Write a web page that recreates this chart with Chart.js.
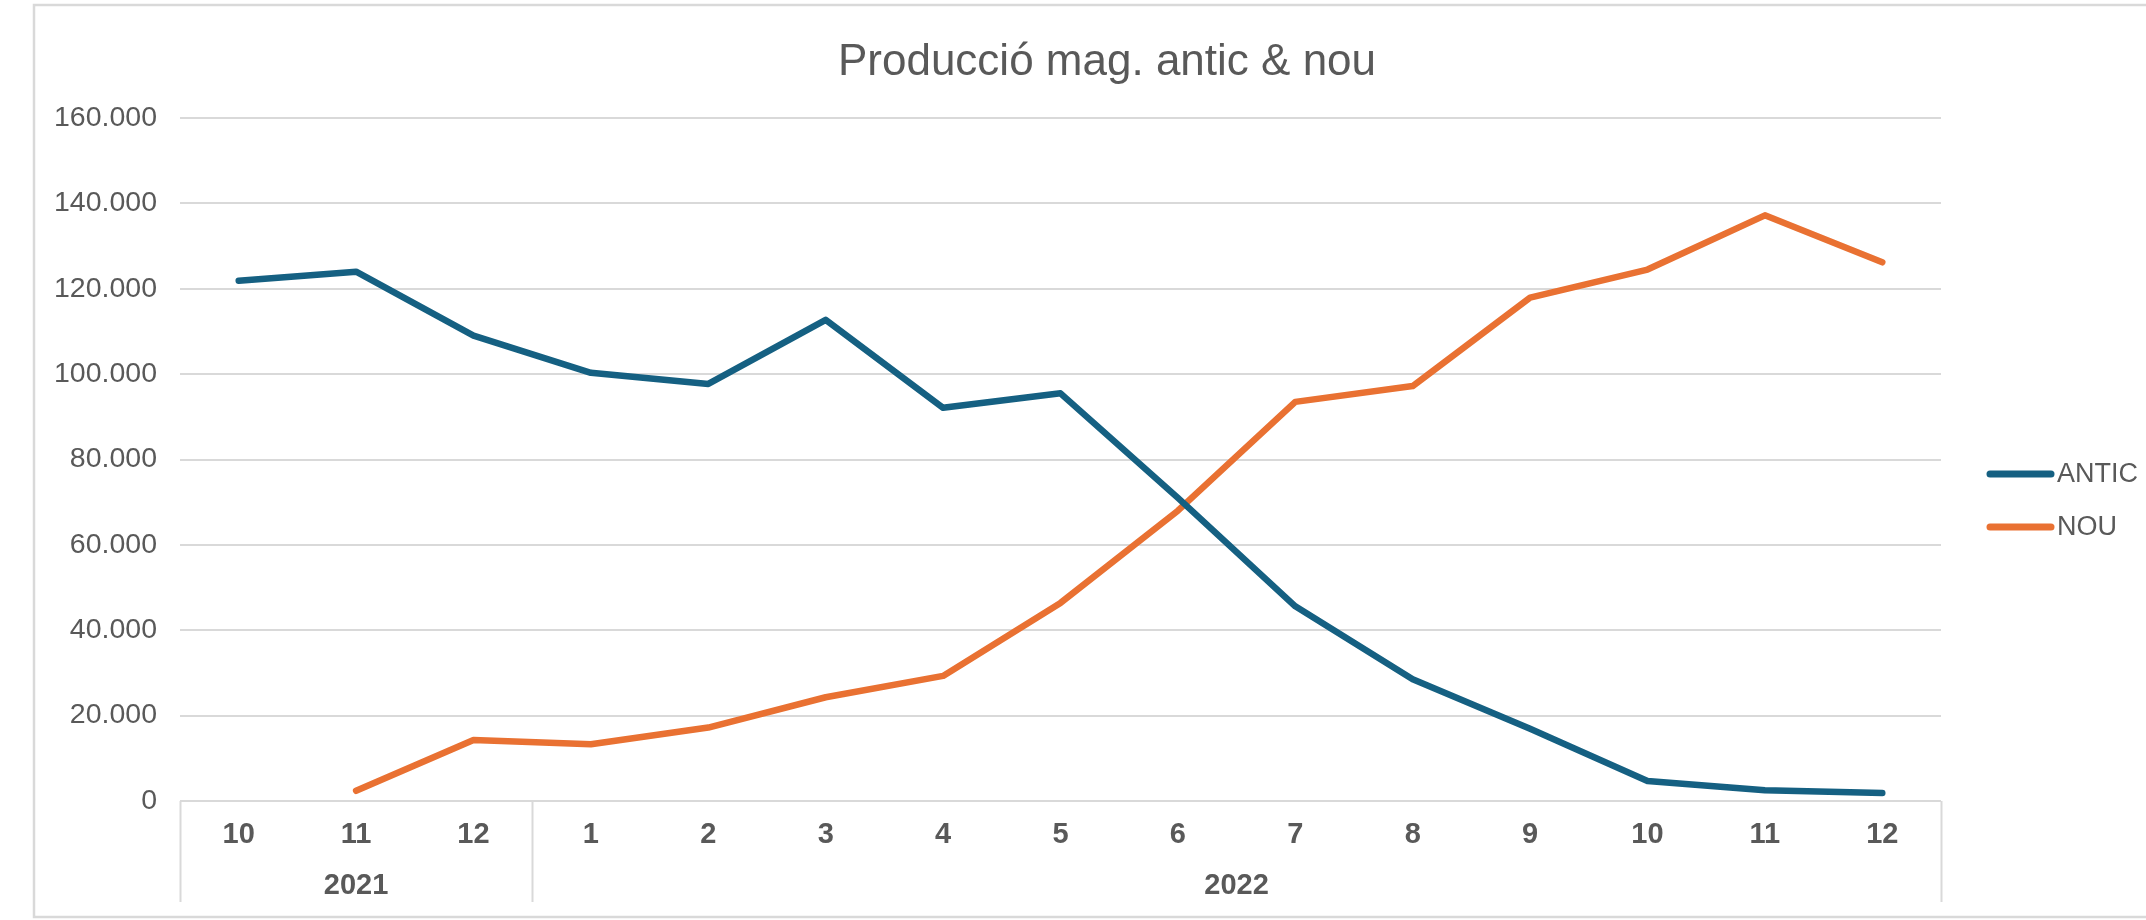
<!DOCTYPE html>
<html>
<head>
<meta charset="utf-8">
<script src="https://cdn.jsdelivr.net/npm/chart.js@4.4.1/dist/chart.umd.min.js"></script>
<style>
html,body{margin:0;padding:0;background:#fff;overflow:hidden}
#wrap{width:2146px;height:920px;position:relative}
</style>
</head>
<body>
<div id="wrap"><canvas id="c" width="2146" height="920"></canvas></div>
<script>
// ---- data ----
const chartTitle = 'Producció mag. antic & nou';
const months = ['10','11','12','1','2','3','4','5','6','7','8','9','10','11','12'];
const years = ['2021','2022'];
const yearSpans = [3, 12];
const seriesNames = ['ANTIC', 'NOU'];
const antic = [121900,124000,109000,100300,97700,112700,92100,95500,71000,45600,28500,16900,4700,2500,1900];
const nou   = [null,2400,14300,13300,17200,24300,29300,46400,68000,93500,97200,117900,124500,137200,126200];
const yTicks = [0,20000,40000,60000,80000,100000,120000,140000,160000];

const FONT = '"Liberation Sans", Arial, sans-serif';
const TXT = '#595959';
const GRID = '#d9d9d9';
const colors = ['#156082', '#E97132'];

function fmt(v){
  return String(v).replace(/\B(?=(\d{3})+(?!\d))/g, '.');
}

const extras = {
  id: 'extras',
  beforeDraw(chart){
    const ctx = chart.ctx;
    ctx.save();
    ctx.strokeStyle = GRID;
    ctx.lineWidth = 2.5;
    ctx.strokeRect(34, 5, 2200, 912);
    ctx.restore();
  },
  afterDraw(chart){
    const ctx = chart.ctx;
    const area = chart.chartArea;
    const xs = chart.scales.x;
    ctx.save();
    // title
    ctx.fillStyle = TXT;
    ctx.font = '44px ' + FONT;
    ctx.textAlign = 'center';
    ctx.textBaseline = 'alphabetic';
    ctx.fillText(chartTitle, 1107, 75);

    // group separators and year labels
    const boundary = (i) => {
      if (i <= 0) return area.left;
      if (i >= months.length) return area.right;
      return (xs.getPixelForValue(i-1) + xs.getPixelForValue(i)) / 2;
    };
    ctx.strokeStyle = GRID;
    ctx.lineWidth = 2;
    let start = 0;
    const bounds = [0];
    yearSpans.forEach(s => { start += s; bounds.push(start); });
    bounds.forEach(b => {
      const x = Math.round(boundary(b)) + 0.5;
      ctx.beginPath();
      ctx.moveTo(x, area.bottom);
      ctx.lineTo(x, 902);
      ctx.stroke();
    });
    ctx.fillStyle = TXT;
    ctx.font = 'bold 29px ' + FONT;
    ctx.textAlign = 'center';
    ctx.textBaseline = 'middle';
    years.forEach((y, i) => {
      const x = (boundary(bounds[i]) + boundary(bounds[i+1])) / 2;
      ctx.fillText(y, x, 886);
    });

    // legend
    const legY = [474, 527];
    chart.data.datasets.forEach((ds, i) => {
      ctx.strokeStyle = ds.borderColor;
      ctx.lineWidth = 7;
      ctx.lineCap = 'round';
      ctx.beginPath();
      ctx.moveTo(1990, legY[i]);
      ctx.lineTo(2051, legY[i]);
      ctx.stroke();
      ctx.fillStyle = TXT;
      ctx.font = '27px ' + FONT;
      ctx.textAlign = 'left';
      ctx.textBaseline = 'middle';
      ctx.fillText(ds.label, 2057, legY[i] + 1);
    });
    ctx.restore();
  }
};

new Chart(document.getElementById('c'), {
  type: 'line',
  data: {
    labels: months,
    datasets: [
      { label: seriesNames[0], data: antic, borderColor: colors[0], backgroundColor: colors[0] },
      { label: seriesNames[1], data: nou, borderColor: colors[1], backgroundColor: colors[1] }
    ]
  },
  options: {
    responsive: false,
    devicePixelRatio: 1,
    animation: false,
    events: [],
    layout: { padding: { left: 0, top: 118, right: 205, bottom: 0 } },
    elements: {
      line: { borderWidth: 6.5, tension: 0, borderCapStyle: 'round', borderJoinStyle: 'round' },
      point: { radius: 0, hoverRadius: 0 }
    },
    plugins: { legend: { display: false }, title: { display: false }, tooltip: { enabled: false } },
    scales: {
      x: {
        type: 'category',
        offset: true,
        grid: { display: false, drawTicks: false },
        border: { display: false },
        ticks: {
          color: TXT, font: { family: FONT, size: 29, weight: 'bold' },
          padding: 17, maxRotation: 0, autoSkip: false
        },
        afterFit(s){ s.height = 119; }
      },
      y: {
        min: 0, max: 160000,
        afterBuildTicks(s){ s.ticks = yTicks.map(v => ({ value: v })); },
        grid: { color: GRID, lineWidth: 2, drawTicks: false },
        border: { display: false },
        ticks: {
          color: TXT, font: { family: FONT, size: 28.5 },
          padding: 23,
          callback: (v) => fmt(v)
        },
        afterFit(s){ s.width = 180; }
      }
    }
  },
  plugins: [extras]
});
</script>
</body>
</html>
